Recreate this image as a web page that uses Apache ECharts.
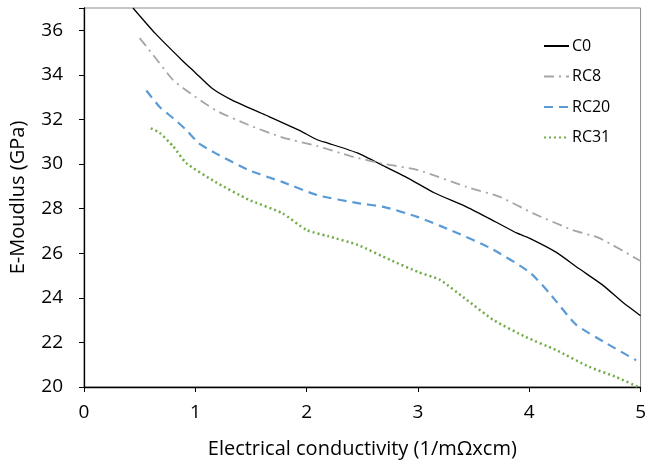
<!DOCTYPE html>
<html><head><meta charset="utf-8">
<script src="https://cdn.jsdelivr.net/npm/echarts@6/dist/echarts.min.js"></script>
<style>html,body{margin:0;padding:0;background:#fff}#c{width:649px;height:464px}</style>
</head><body><div id="c"></div>
<script>
var seriesNames = ['C0', 'RC8', 'RC20', 'RC31'];
var c0 = [[0.44,37.0],[0.64,35.86],[0.88,34.66],[1.0,34.1],[1.15,33.4],[1.33,32.87],[1.63,32.2],[1.93,31.52],[2.10,31.08],[2.19,30.94],[2.46,30.49],[2.70,29.9],[2.91,29.37],[3.15,28.7],[3.44,28.07],[3.70,27.4],[3.89,26.9],[4.0,26.68],[4.24,26.05],[4.45,25.3],[4.66,24.57],[4.84,23.8],[5.0,23.2]];
var rc8 = [[0.50,35.65],[0.62,34.9],[0.80,33.77],[0.92,33.3],[1.18,32.42],[1.48,31.75],[1.78,31.2],[2.10,30.8],[2.40,30.35],[2.70,30.0],[3.0,29.73],[3.44,28.97],[3.74,28.52],[4.03,27.8],[4.39,27.04],[4.63,26.68],[5.0,25.65]];
var rc20 = [[0.56,33.3],[0.68,32.56],[0.80,32.06],[0.92,31.52],[1.03,30.94],[1.18,30.49],[1.48,29.73],[1.78,29.2],[2.10,28.6],[2.46,28.25],[2.70,28.07],[3.0,27.62],[3.29,27.04],[3.65,26.23],[4.0,25.16],[4.18,24.22],[4.42,22.8],[4.69,21.97],[4.96,21.2]];
var rc31 = [[0.60,31.6],[0.68,31.4],[0.80,30.8],[0.92,30.04],[1.18,29.2],[1.48,28.4],[1.78,27.8],[2.0,27.04],[2.19,26.77],[2.46,26.37],[2.75,25.7],[3.0,25.16],[3.2,24.8],[3.44,23.9],[3.68,23.0],[3.97,22.24],[4.24,21.66],[4.54,20.9],[4.78,20.45],[4.98,20.0]];
var xTicks = [0,1,2,3,4,5];
var yTicks = [20,22,24,26,28,30,32,34,36];

var font = 'Open Sans';
var chart = echarts.init(document.getElementById('c'));
chart.setOption({
  animation: false,
  grid: {left: 84, right: 4, top: 8, bottom: 77, show: true, borderColor: '#8c8c8c', borderWidth: 1},
  legend: {
    orient: 'vertical', left: 543, top: 36, itemWidth: 25, itemHeight: 14, itemGap: 10.5, padding: 0,
    itemStyle: {opacity: 0},
    textStyle: {fontFamily: font, fontSize: 16, lineHeight: 20, color: '#000', padding: [0,0,0,-2]},
    data: seriesNames
  },
  xAxis: {
    type: 'value', min: 0, max: 5, interval: 1,
    name: 'Electrical conductivity (1/m\u03A9xcm)', nameLocation: 'middle', nameGap: 52,
    nameTextStyle: {fontFamily: font, fontSize: 20, color: '#000'},
    axisLine: {lineStyle: {color: '#000', width: 1.3}},
    axisTick: {show: true, length: 5, lineStyle: {color: '#000'}},
    axisLabel: {fontFamily: font, fontSize: 19, color: '#000', margin: 16,
      formatter: function(v){ return xTicks.indexOf(v) >= 0 ? v : ''; }},
    splitLine: {show: false}
  },
  yAxis: {
    type: 'value', min: 20, max: 37, interval: 2,
    name: 'E-Moudlus (GPa)', nameLocation: 'middle', nameGap: 56,
    nameTextStyle: {fontFamily: font, fontSize: 20, color: '#000'},
    axisLine: {show: true, lineStyle: {color: '#000', width: 1.3}},
    axisTick: {show: true, length: 5, lineStyle: {color: '#000'}},
    axisLabel: {fontFamily: font, fontSize: 19, color: '#000', margin: 21,
      formatter: function(v){ return yTicks.indexOf(v) >= 0 ? v : ''; }},
    splitLine: {show: false}
  },
  series: [
    {name: 'C0', type: 'line', data: c0, symbol: 'none', smooth: 0.2, lineStyle: {color: '#000', width: 1.3}, itemStyle: {color: '#000'}},
    {name: 'RC8', type: 'line', data: rc8, symbol: 'none', smooth: 0.2, lineStyle: {color: '#a5a5a5', width: 1.8, type: [10,5,2,5]}, itemStyle: {color: '#a5a5a5'}},
    {name: 'RC20', type: 'line', data: rc20, symbol: 'none', smooth: 0.2, lineStyle: {color: '#5b9bd5', width: 2.2, type: [9,6]}, itemStyle: {color: '#5b9bd5'}},
    {name: 'RC31', type: 'line', data: rc31, symbol: 'none', smooth: 0.2, lineStyle: {color: '#70ad47', width: 2.5, type: [2,3]}, itemStyle: {color: '#70ad47'}}
  ]
});
</script></body></html>
